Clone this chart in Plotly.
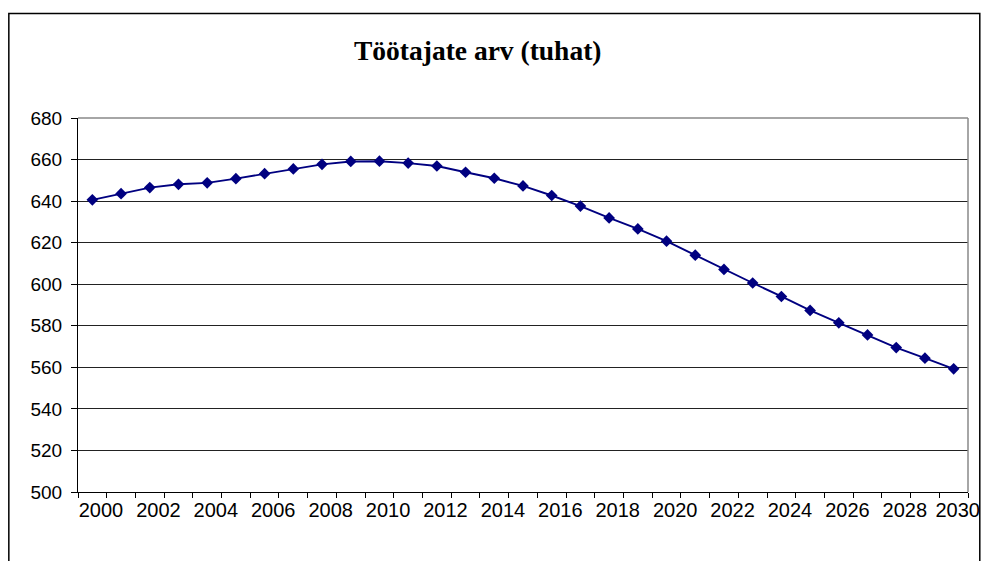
import plotly.graph_objects as go

years = list(range(2000, 2031))
workers = [640.6, 643.6, 646.5, 648.1, 648.8, 650.8, 653.2, 655.5, 657.7, 659.1,
           659.2, 658.3, 656.9, 653.9, 651.0, 647.3, 642.7, 637.6, 631.9, 626.6,
           620.7, 614.0, 607.1, 600.6, 594.1, 587.4, 581.4, 575.6, 569.5, 564.4,
           559.3]
label_years = list(range(2000, 2031, 2))
y_ticks = list(range(500, 681, 20))
title_text = "Töötajate arv (tuhat)"

# the page body has an 8px margin on every side; size the figure so the
# page fits the 989x569 window exactly and work in screen pixels.
OFF = 8
W, H = 989 - 2 * OFF, 569 - 2 * OFF
L, R, T, B = 78 - OFF, 968.4 - OFF, 117.7 - OFF, 492.0 - OFF
pw, ph = R - L, B - T


def px(x):
    return (x - OFF - L) / pw


def py(y):
    return (B - (y - OFF)) / ph


# labels sit just right of their category's left boundary (Excel style);
# the last one is nudged so it stays inside the page
label_pos = [y + 0.3 for y in label_years]
label_pos[-1] -= 0.16

fig = go.Figure()
fig.add_trace(go.Scatter(
    x=years, y=workers, mode="lines+markers",
    line=dict(color="#000080", width=1.9),
    marker=dict(symbol="diamond", size=9, color="#000080"),
    showlegend=False, hoverinfo="x+y",
))

fig.update_layout(
    width=W, height=H,
    margin=dict(l=L, r=W - R, t=T, b=H - B, pad=0),
    paper_bgcolor="white", plot_bgcolor="white",
    font=dict(family="Liberation Sans, Arial, sans-serif", color="black"),
    xaxis=dict(
        range=[1999.5, 2030.5],
        automargin=False,
        tickmode="array",
        tickvals=label_pos,
        ticktext=[str(y) for y in label_years],
        ticks="",
        ticklabeloverflow="allow",
        showgrid=False,
        showline=True, linecolor="black", linewidth=1,
        tickfont=dict(size=20, family="Liberation Sans, Arial, sans-serif"),
        minor=dict(tick0=1999.5, dtick=1, ticks="outside", ticklen=5,
                   tickcolor="black", tickwidth=1, showgrid=False),
        zeroline=False,
    ),
    yaxis=dict(
        range=[500, 680],
        automargin=False,
        tickmode="array", tickvals=y_ticks,
        ticks="outside", ticklen=6, tickcolor="black", tickwidth=1,
        showgrid=True, gridcolor="#222", gridwidth=1,
        showline=True, linecolor="black", linewidth=1,
        tickfont=dict(size=19, family="Liberation Sans, Arial, sans-serif"),
        ticklabelstandoff=5,
        zeroline=False,
    ),
    shapes=[
        dict(type="line", xref="paper", yref="paper", x0=1, x1=1, y0=0, y1=1,
             line=dict(color="#888", width=1.5)),
        dict(type="line", xref="paper", yref="paper", x0=0, x1=1, y0=1, y1=1,
             line=dict(color="#888", width=1.5)),
        dict(type="rect", xref="paper", yref="paper",
             x0=px(8.8), x1=px(980.2), y0=py(13), y1=py(600),
             line=dict(color="black", width=1.5), fillcolor="rgba(0,0,0,0)"),
    ],
    annotations=[
        dict(text="<b>" + title_text + "</b>", xref="paper", yref="paper",
             x=px(477.5), y=py(50), xanchor="center", yanchor="middle",
             showarrow=False,
             font=dict(family="Liberation Serif, Times New Roman, serif",
                       size=27.5, color="black")),
    ],
)

fig.write_html("out.html")
